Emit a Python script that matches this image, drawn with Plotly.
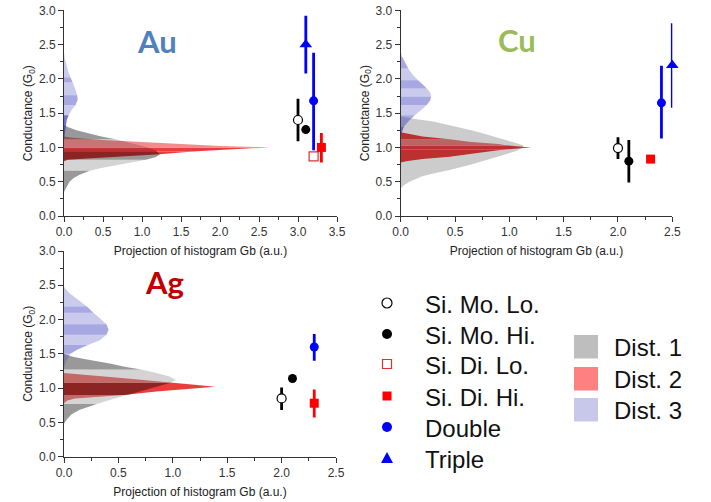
import plotly.graph_objects as go

W, H = 711, 502


def fx(px):
    return px / W


def fy(py):
    return 1 - py / H


# ---------------- data ----------------
categories = ["Si. Mo. Lo.", "Si. Mo. Hi.", "Si. Di. Lo.", "Si. Di. Hi.", "Double", "Triple"]

# Au panel (None = not measured)
au_x = [3.0, 3.1, 3.2, 3.3, 3.2, 3.1]
au_y = [1.40, 1.26, 0.87, 1.00, 1.68, 2.50]
au_ep = [0.31, None, None, 0.21, 0.70, 0.42]
au_em = [0.31, None, None, 0.22, 0.72, 0.42]

# Cu panel
cu_x = [2.0, 2.1, None, 2.3, 2.4, 2.5]
cu_y = [0.99, 0.80, None, 0.83, 1.65, 2.20]
cu_ep = [0.16, 0.31, None, None, 0.54, 0.61]
cu_em = [0.16, 0.31, None, None, 0.52, 0.62]

# Ag panel
ag_x = [2.0, 2.1, None, 2.3, 2.3, None]
ag_y = [0.85, 1.14, None, 0.78, 1.60, None]
ag_ep = [0.16, None, None, 0.20, 0.19, None]
ag_em = [0.17, None, None, 0.21, 0.20, None]

# Projected distributions (conductance G0 -> projection, a.u.)
au_d1_g = [0.35, 0.40, 0.45, 0.50, 0.55, 0.60, 0.66, 0.70, 0.75, 0.82, 0.86, 0.90, 0.95, 1.00, 1.05, 1.12, 1.16, 1.20, 1.25, 1.30, 1.33]
au_d1_p = [0.0, 0.02, 0.04, 0.07, 0.12, 0.20, 0.33, 0.48, 0.72, 1.05, 1.18, 1.23, 1.18, 1.08, 0.92, 0.66, 0.48, 0.32, 0.16, 0.04, 0.0]
au_d2_g = [0.80, 0.82, 0.84, 0.87, 0.90, 0.94, 0.97, 0.99, 1.00, 1.02, 1.05, 1.08, 1.11, 1.14, 1.16]
au_d2_p = [0.0, 0.05, 0.30, 0.85, 1.23, 1.65, 2.10, 2.55, 2.63, 2.00, 1.47, 0.95, 0.50, 0.10, 0.0]
au_d3_g = [1.10, 1.20, 1.30, 1.40, 1.47, 1.55, 1.62, 1.70, 1.76, 1.85, 1.95, 2.02, 2.10, 2.20, 2.30, 2.38]
au_d3_p = [0.0, 0.01, 0.02, 0.035, 0.06, 0.10, 0.15, 0.175, 0.17, 0.145, 0.11, 0.085, 0.055, 0.03, 0.01, 0.0]

cu_d1_g = [0.40, 0.45, 0.50, 0.55, 0.58, 0.62, 0.67, 0.75, 0.83, 0.90, 0.95, 1.00, 1.03, 1.06, 1.12, 1.18, 1.20, 1.25, 1.33, 1.38, 1.42, 1.45]
cu_d1_p = [0.0, 0.03, 0.08, 0.15, 0.20, 0.30, 0.45, 0.65, 0.82, 0.97, 1.07, 1.12, 1.13, 1.07, 0.95, 0.82, 0.77, 0.65, 0.45, 0.30, 0.12, 0.0]
cu_d2_g = [0.78, 0.80, 0.83, 0.865, 0.90, 0.94, 0.97, 1.00, 1.03, 1.05, 1.08, 1.12, 1.16, 1.20, 1.22]
cu_d2_p = [0.0, 0.05, 0.20, 0.45, 0.62, 0.82, 0.95, 1.20, 0.98, 0.90, 0.65, 0.45, 0.20, 0.05, 0.0]
cu_d3_g = [1.15, 1.22, 1.30, 1.38, 1.47, 1.55, 1.62, 1.68, 1.74, 1.80, 1.86, 1.92, 1.98, 2.06, 2.15, 2.24, 2.32, 2.40]
cu_d3_p = [0.0, 0.01, 0.03, 0.07, 0.13, 0.19, 0.24, 0.27, 0.28, 0.27, 0.24, 0.20, 0.16, 0.11, 0.07, 0.04, 0.015, 0.0]

ag_d1_g = [0.48, 0.55, 0.62, 0.68, 0.77, 0.84, 0.90, 0.98, 1.05, 1.08, 1.12, 1.17, 1.22, 1.27, 1.31, 1.36, 1.42, 1.46, 1.50]
ag_d1_p = [0.0, 0.03, 0.07, 0.14, 0.30, 0.45, 0.58, 0.76, 0.92, 0.98, 1.03, 0.97, 0.85, 0.71, 0.57, 0.42, 0.20, 0.07, 0.0]
ag_d2_g = [0.78, 0.82, 0.85, 0.90, 0.95, 0.99, 1.02, 1.05, 1.08, 1.14, 1.18, 1.22]
ag_d2_p = [0.0, 0.03, 0.10, 0.55, 0.85, 1.15, 1.39, 1.20, 1.00, 0.58, 0.25, 0.0]
ag_d3_g = [1.30, 1.40, 1.50, 1.56, 1.63, 1.70, 1.78, 1.85, 1.93, 2.02, 2.10, 2.19, 2.30, 2.40, 2.48]
ag_d3_p = [0.0, 0.02, 0.06, 0.12, 0.22, 0.33, 0.39, 0.41, 0.39, 0.33, 0.27, 0.21, 0.12, 0.04, 0.0]

# shading bands (boundaries on the conductance axis)
au_d1_bands = [0.35, 0.66, 0.82, 0.95, 1.12, 1.33]
au_d2_bands = [0.80, 0.94, 1.00, 1.16]
au_d3_bands = [1.10, 1.47, 1.62, 1.76, 1.95, 2.02, 2.38]
cu_d1_bands = [0.40, 0.58, 1.20, 1.45]
cu_d2_bands = [0.78, 0.97, 1.03, 1.12, 1.22]
cu_d3_bands = [1.15, 1.30, 1.47, 1.62, 1.74, 1.86, 1.98, 2.15, 2.32, 2.40]
ag_d1_bands = [0.48, 0.77, 0.90, 1.08, 1.27, 1.50]
ag_d2_bands = [0.78, 0.90, 1.08, 1.22]
ag_d3_bands = [1.30, 1.50, 1.63, 1.78, 1.93, 2.10, 2.19, 2.30, 2.48]

dist_labels = ["Dist. 1", "Dist. 2", "Dist. 3"]

# ---------------- styles ----------------
FONT = "Liberation Sans, Arial, sans-serif"
GDARK, GLIGHT, GMID = "rgba(0,0,0,0.40)", "rgba(0,0,0,0.17)", "rgba(0,0,0,0.20)"
R_BR, R_PINK, R_LT = "rgb(235,60,60)", "rgb(236,125,125)", "rgb(240,140,140)"
B_DK, B_MD, B_LT = "rgba(60,60,190,0.72)", "rgba(60,60,190,0.45)", "rgba(60,60,190,0.27)"

shades = {
    "au1": [GDARK, GLIGHT, GDARK, GLIGHT, GDARK],
    "au2": [R_BR, R_BR, R_LT],
    "au3": [B_DK, B_LT, B_MD, B_LT, B_MD, B_LT],
    "cu1": [GMID, GMID, GMID],
    "cu2": [R_BR, R_BR, R_PINK, R_BR],
    "cu3": [B_DK, B_MD, B_LT, B_MD, B_LT, B_MD, B_LT, B_MD, B_LT],
    "ag1": [GDARK, GLIGHT, GDARK, GLIGHT, GDARK],
    "ag2": [R_PINK, R_BR, R_PINK],
    "ag3": [B_LT, B_MD, B_LT, B_MD, B_LT, B_MD, B_LT, B_LT],
}

marker_style = {
    "Si. Mo. Lo.": dict(symbol="circle", color="white", line=dict(color="black", width=1.2), err="black"),
    "Si. Mo. Hi.": dict(symbol="circle", color="black", line=dict(color="black", width=0), err="black"),
    "Si. Di. Lo.": dict(symbol="square", color="white", line=dict(color="#e03030", width=1.2), err="red"),
    "Si. Di. Hi.": dict(symbol="square", color="#ff0000", line=dict(color="#ff0000", width=0), err="red"),
    "Double": dict(symbol="circle", color="#0000ff", line=dict(color="#0000ff", width=0), err="#0000ff"),
    "Triple": dict(symbol="triangle-up", color="#0000ff", line=dict(color="#0000ff", width=0), err="#0000ff"),
}

fig = go.Figure()


def add_bands(g, p, bounds, cols, xa, ya):
    for k in range(len(bounds) - 1):
        lo, hi = bounds[k], bounds[k + 1]
        i0, i1 = g.index(lo), g.index(hi)
        fig.add_trace(go.Scatter(
            x=[0] + p[i0:i1 + 1] + [0], y=[lo] + g[i0:i1 + 1] + [hi],
            fill="toself", fillcolor=cols[k], mode="lines", line=dict(width=0),
            hoverinfo="skip", showlegend=False, xaxis=xa, yaxis=ya))


panels = [
    ("x", "y", "au", (au_d1_g, au_d1_p, au_d1_bands), (au_d2_g, au_d2_p, au_d2_bands), (au_d3_g, au_d3_p, au_d3_bands)),
    ("x2", "y2", "cu", (cu_d1_g, cu_d1_p, cu_d1_bands), (cu_d2_g, cu_d2_p, cu_d2_bands), (cu_d3_g, cu_d3_p, cu_d3_bands)),
    ("x3", "y3", "ag", (ag_d1_g, ag_d1_p, ag_d1_bands), (ag_d2_g, ag_d2_p, ag_d2_bands), (ag_d3_g, ag_d3_p, ag_d3_bands)),
]
for xa, ya, key, d1, d2, d3 in panels:
    add_bands(d2[0], d2[1], d2[2], shades[key + "2"], xa, ya)   # red first
    add_bands(d1[0], d1[1], d1[2], shades[key + "1"], xa, ya)   # translucent grey over it
    add_bands(d3[0], d3[1], d3[2], shades[key + "3"], xa, ya)   # blue on top

point_sets = [("x", "y", au_x, au_y, au_ep, au_em), ("x2", "y2", cu_x, cu_y, cu_ep, cu_em),
              ("x3", "y3", ag_x, ag_y, ag_ep, ag_em)]
for xa, ya, xs, ys, ep, em in point_sets:
    for i, cat in enumerate(categories):
        if xs[i] is None:
            continue
        st = marker_style[cat]
        err = None
        if ep[i] is not None:
            err = dict(type="data", symmetric=False, array=[ep[i]], arrayminus=[em[i]],
                       color=st["err"], thickness=2.8, width=0)
        fig.add_trace(go.Scatter(
            x=[xs[i]], y=[ys[i]], mode="markers", name=cat, legendgroup=cat,
            showlegend=False, cliponaxis=False,
            marker=dict(symbol=st["symbol"], color=st["color"], line=st["line"],
                        size=11 if cat == "Triple" else 9),
            error_y=err, xaxis=xa, yaxis=ya))

axis_common = dict(showline=True, linecolor="#333", linewidth=1, ticks="outside", ticklen=5,
                   tickcolor="#333", showgrid=False, zeroline=False, tickformat=".1f", automargin=False,
                   ticklabeloverflow="allow",
                   tickfont=dict(family=FONT, size=12, color="#333"),
                   minor=dict(ticks="outside", ticklen=3, dtick=0.25, tickcolor="#333", showgrid=False))
xtitle = dict(text="Projection of histogram Gb (a.u.)", font=dict(family=FONT, size=12, color="#222"), standoff=8)
ytitle = dict(text="Conductance (G<sub>0</sub>)", font=dict(family=FONT, size=12, color="#222"), standoff=3)

top_y = [fy(216), fy(10.3)]
fig.update_layout(
    width=W, height=H, margin=dict(l=0, r=0, t=0, b=0, autoexpand=False),
    paper_bgcolor="white", plot_bgcolor="white",
    font=dict(family=FONT, color="#222"),
    xaxis=dict(domain=[fx(64), fx(337)], range=[0, 3.5], dtick=0.5, anchor="y", title=xtitle, **axis_common),
    yaxis=dict(domain=top_y, range=[0, 3], dtick=0.5, anchor="x", title=ytitle, **axis_common),
    xaxis2=dict(domain=[fx(400.7), fx(672.3)], range=[0, 2.5], dtick=0.5, anchor="y2", title=xtitle, **axis_common),
    yaxis2=dict(domain=top_y, range=[0, 3], dtick=0.5, anchor="x2", title=ytitle, **axis_common),
    xaxis3=dict(domain=[fx(64), fx(336)], range=[0, 2.5], dtick=0.5, anchor="y3", title=xtitle, **axis_common),
    yaxis3=dict(domain=[fy(456.7), fy(251)], range=[0, 3], dtick=0.5, anchor="x3", title=ytitle, **axis_common),
    showlegend=False,
)

# panel labels
for txt, px, py, col in [("Au", 157, 41, "#4f81bd"), ("Cu", 517, 40, "#9bbb59"), ("Ag", 164, 282, "#c00000")]:
    fig.add_annotation(text=txt, x=fx(px), y=fy(py), xref="paper", yref="paper", showarrow=False,
                       xanchor="center", yanchor="middle",
                       font=dict(family="Lato, Liberation Sans, sans-serif", size=31, color=col, weight="bold"))

# key for the point series
key_rows = [303, 334, 364, 396, 427, 458]
MX, TX = 387, 423
for cat, ry in zip(categories, key_rows):
    st = marker_style[cat]
    if st["symbol"] == "circle":
        r = 5
        fig.add_shape(type="circle", xref="paper", yref="paper",
                      x0=fx(MX - r), x1=fx(MX + r), y0=fy(ry + r), y1=fy(ry - r),
                      fillcolor=st["color"], line=dict(color=st["line"]["color"], width=st["line"]["width"] or 0))
    elif st["symbol"] == "square":
        r = 4.5
        fig.add_shape(type="rect", xref="paper", yref="paper",
                      x0=fx(MX - r), x1=fx(MX + r), y0=fy(ry + r), y1=fy(ry - r),
                      fillcolor=st["color"], line=dict(color=st["line"]["color"], width=st["line"]["width"] or 0))
    else:
        path = "M {:.5f},{:.5f} L {:.5f},{:.5f} L {:.5f},{:.5f} Z".format(
            fx(MX - 6), fy(ry + 5), fx(MX + 6), fy(ry + 5), fx(MX), fy(ry - 6))
        fig.add_shape(type="path", xref="paper", yref="paper", path=path,
                      fillcolor=st["color"], line=dict(width=0))
    fig.add_annotation(text=cat, x=fx(TX), y=fy(ry + 1), xref="paper", yref="paper",
                       showarrow=False, xanchor="left", yanchor="middle",
                       font=dict(family=FONT, size=24, color="#111"))

# key for the distributions
dist_fill = ["#bebebe", "#ff8080", "#c8c8ea"]
dist_top = [335, 367, 398]
for lab, col, t in zip(dist_labels, dist_fill, dist_top):
    fig.add_shape(type="rect", xref="paper", yref="paper", x0=fx(574), x1=fx(598),
                  y0=fy(t + 23.5), y1=fy(t), fillcolor=col, line=dict(width=0))
    fig.add_annotation(text=lab, x=fx(612), y=fy(t + 12), xref="paper", yref="paper",
                       showarrow=False, xanchor="left", yanchor="middle",
                       font=dict(family=FONT, size=24, color="#111"))

# let the figure fill the window exactly (no default page margin), no toolbar
fig.write_html("out.html", config={"displayModeBar": False},
               post_script="document.body.style.margin='0';document.body.style.overflow='hidden';")
